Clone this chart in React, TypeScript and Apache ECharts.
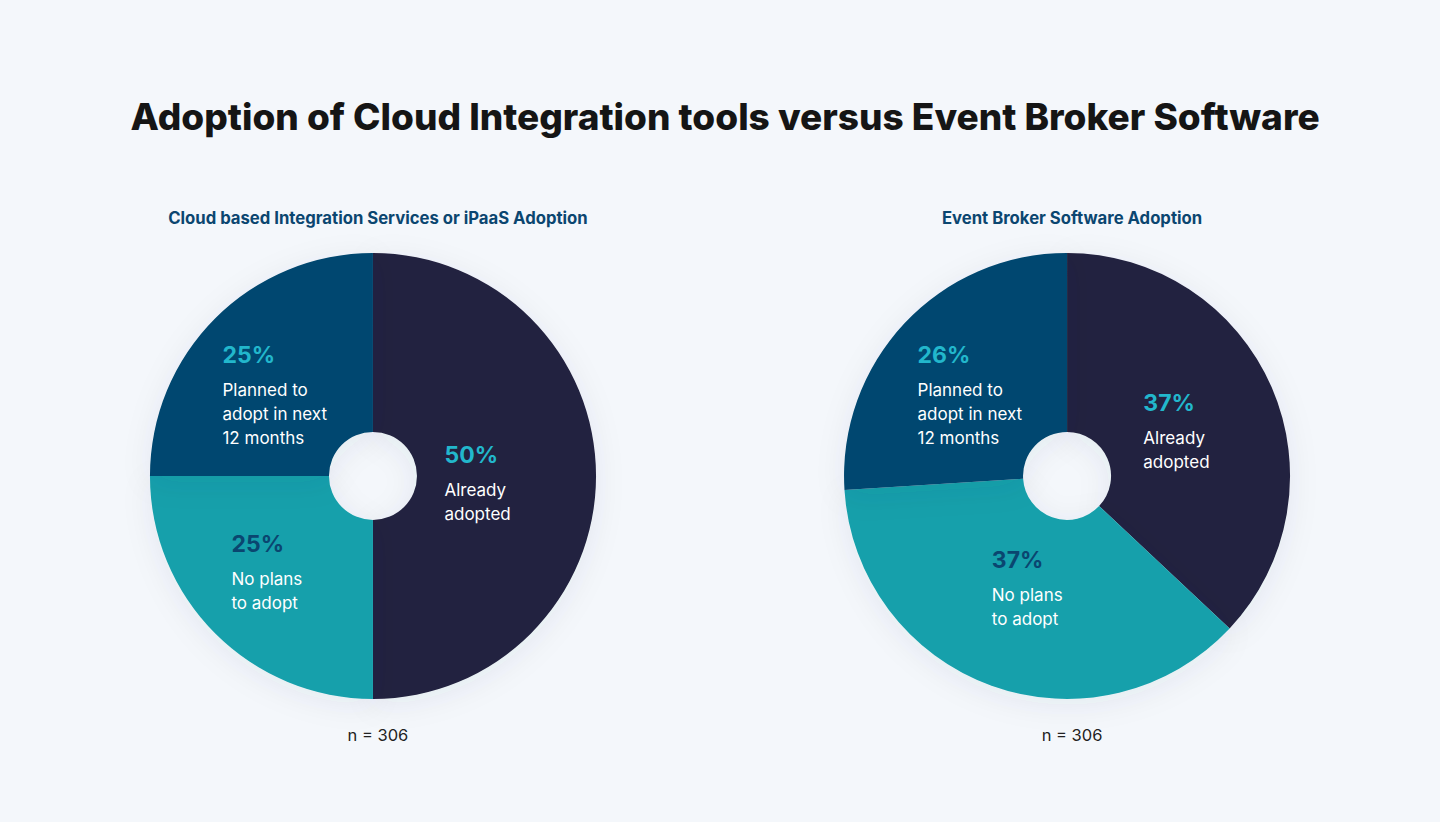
import React, { useEffect, useRef } from "react";
import * as echarts from "echarts";

const mainTitle = "Adoption of Cloud Integration tools versus Event Broker Software";
const chartTitles = ["Cloud based Integration Services or iPaaS Adoption", "Event Broker Software Adoption"];
const sampleNotes = ["n = 306", "n = 306"];
const categories = ["Already adopted", "No plans to adopt", "Planned to adopt in next 12 months"];
const categoryLines = [["Already", "adopted"], ["No plans", "to adopt"], ["Planned to", "adopt in next", "12 months"]];
const cloudValues = [50, 25, 25];
const brokerValues = [37, 37, 26];

const sliceColors = ["#22213f", "#15a0ab", "#00476f"];
const pctColors = ["#22b7cc", "#0a4670", "#22b7cc"];
// label offsets (top-left of block relative to default inside anchor)
const labelOffsets = [
  [[-65, -48], [-45, -55], [-54, -51]],
  [[-49, -46], [-29, -71], [-50, -54]],
];

const FONT = "Inter, 'Noto Sans', sans-serif";

export default function App() {
  const ref = useRef<HTMLDivElement>(null);
  useEffect(() => {
    document.body.style.margin = "0";
    const chart = echarts.init(ref.current!, null, { renderer: "svg" });
    const centers = [["25.9%", "57.9%"], ["74.1%", "57.9%"]];
    const makeSeries = (values: number[], idx: number) => ({
      type: "pie",
      center: centers[idx],
      radius: [44, 223],
      startAngle: 90,
      clockwise: true,
      silent: true,
      itemStyle: {
        borderWidth: 0,
        shadowBlur: 30,
        shadowColor: "rgba(30,50,90,0.07)",
        shadowOffsetY: 6,
      },
      label: {
        show: true,
        position: "inside",
        fontFamily: FONT,
        rich: {
          p0: { fontSize: 23, fontWeight: 700, color: pctColors[0], lineHeight: 46, align: "left", fontFamily: FONT },
          p1: { fontSize: 23, fontWeight: 700, color: pctColors[1], lineHeight: 46, align: "left", fontFamily: FONT },
          p2: { fontSize: 23, fontWeight: 700, color: pctColors[2], lineHeight: 46, align: "left", fontFamily: FONT },
          t: { fontSize: 17, color: "#ffffff", lineHeight: 24, align: "left", fontFamily: FONT },
        },
        formatter: (p: any) =>
          `{p${p.dataIndex}|${p.value}%}\n` + categoryLines[p.dataIndex].map((l) => `{t|${l}}`).join("\n"),
      },
      labelLine: { show: false },
      labelLayout: (params: any) => {
        const r = params.labelRect;
        const off = labelOffsets[idx][params.dataIndex];
        return {
          x: r.x + r.width / 2 + off[0],
          y: r.y + r.height / 2 + off[1],
          align: "left",
          verticalAlign: "top",
        };
      },
      data: values.map((v, i) => ({
        name: categories[i],
        value: v,
        itemStyle: { color: sliceColors[i] },
      })),
    });
    chart.setOption({
      animation: false,
      backgroundColor: "#f4f7fb",
      title: [
        {
          text: mainTitle,
          left: "50%",
          top: 93,
          textAlign: "center",
          textStyle: { fontFamily: FONT, fontSize: 37, fontWeight: 800, color: "#151515" },
        },
        {
          text: chartTitles[0],
          left: "25.9%",
          top: 204,
          textAlign: "center",
          textStyle: { fontFamily: FONT, fontSize: 16.7, fontWeight: 700, color: "#0b4670" },
        },
        {
          text: chartTitles[1],
          left: "74.1%",
          top: 204,
          textAlign: "center",
          textStyle: { fontFamily: FONT, fontSize: 16.7, fontWeight: 700, color: "#0b4670" },
        },
        {
          text: sampleNotes[0],
          left: "25.9%",
          top: 721,
          textAlign: "center",
          textStyle: { fontFamily: FONT, fontSize: 16.5, fontWeight: 400, color: "#222222" },
        },
        {
          text: sampleNotes[1],
          left: "74.1%",
          top: 721,
          textAlign: "center",
          textStyle: { fontFamily: FONT, fontSize: 16.5, fontWeight: 400, color: "#222222" },
        },
      ],
      series: [makeSeries(cloudValues, 0), makeSeries(brokerValues, 1)],
    });
    return () => chart.dispose();
  }, []);
  return <div ref={ref} style={{ width: 1440, height: 822 }} />;
}
